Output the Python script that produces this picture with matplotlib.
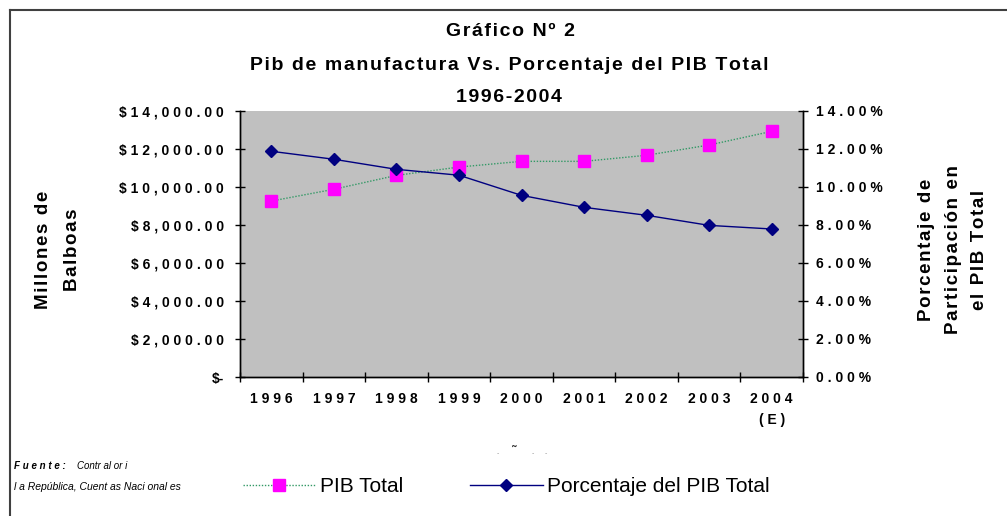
import matplotlib
matplotlib.use("Agg")
import matplotlib.pyplot as plt
from matplotlib.lines import Line2D
from matplotlib.ticker import FixedLocator, FixedFormatter

plt.rcParams['font.family'] = ['Liberation Sans', 'DejaVu Sans']

years = ['1996', '1997', '1998', '1999', '2000', '2001', '2002', '2003', '2004']
year_labels = ['1996', '1997', '1998', '1999', '2000', '2001', '2002', '2003', '2004\n(E)']
pib_total = [9260, 9880, 10610, 11050, 11350, 11350, 11670, 12210, 12930]
pct_pib = [11.88, 11.46, 10.93, 10.62, 9.56, 8.93, 8.51, 7.98, 7.79]
left_ticks = [0, 2000, 4000, 6000, 8000, 10000, 12000, 14000]
right_ticks = [0, 2, 4, 6, 8, 10, 12, 14]


def spaced(s):
    return '\n'.join(' '.join(line) for line in s.split('\n'))


def hair(s):
    return '\n'.join('\u200a'.join(line) for line in s.split('\n'))


W, H = 1007, 516
fig = plt.figure(figsize=(W / 100, H / 100), dpi=100)
fig.patch.set_facecolor('white')

x0, x1, ytop, ybot = 240, 803, 111, 377
ax = fig.add_axes([x0 / W, 1 - ybot / H, (x1 - x0) / W, (ybot - ytop) / H])
ax.set_facecolor('#C0C0C0')
ax2 = ax.twinx()

xs = list(range(len(years)))
l1, = ax.plot(xs, pib_total, linestyle=(0, (1, 1.2)), color='#339966', lw=1.0,
              marker='s', markersize=8.5, markerfacecolor='#FF00FF',
              markeredgecolor='#FF00FF', zorder=3)
l2, = ax2.plot(xs, pct_pib, linestyle='-', color='#000080', lw=1.0,
               marker='D', markersize=6.5, markerfacecolor='#000080',
               markeredgecolor='#000080', zorder=3)

ax.set_xlim(-0.5, len(years) - 0.5)
ax.set_ylim(0, 14000)
ax2.set_ylim(0, 14)

ax.yaxis.set_major_locator(FixedLocator(left_ticks))
ax.yaxis.set_major_formatter(FixedFormatter(
    ['$-'] + [spaced('${:,.2f}'.format(v)) for v in left_ticks[1:]]))
ax2.yaxis.set_major_locator(FixedLocator(right_ticks))
ax2.yaxis.set_major_formatter(FixedFormatter(
    [spaced('{:.2f}%'.format(v)) for v in right_ticks]))

ax.xaxis.set_major_locator(FixedLocator([i - 0.5 for i in range(len(years) + 1)]))
ax.xaxis.set_major_formatter(FixedFormatter([''] * (len(years) + 1)))
ax.xaxis.set_minor_locator(FixedLocator(xs))
ax.xaxis.set_minor_formatter(FixedFormatter([spaced(s) for s in year_labels]))
ax.tick_params(axis='x', which='major', direction='inout', length=7, width=1, color='black')
ax.tick_params(axis='x', which='minor', length=0, pad=11, labelsize=10)
for t in ax.xaxis.get_minorticklabels():
    t.set_fontweight('bold')
    t.set_linespacing(1.6)
ax.tick_params(axis='y', direction='inout', length=7, width=1, pad=8, labelsize=10)
ax2.tick_params(axis='y', direction='inout', length=7, width=1, pad=6, labelsize=10)
for t in ax.get_yticklabels() + ax2.get_yticklabels():
    t.set_fontweight('bold')

for a in (ax, ax2):
    for s in a.spines.values():
        s.set_color('black')
        s.set_linewidth(1.0)
ax2.spines['top'].set_visible(False)
ax.spines['top'].set_visible(False)

# titles
fig.text(510 / W, 1 - 32 / H, hair('Gráfico Nº 2'), ha='center', va='center',
         fontsize=14, fontweight='bold')
fig.text(509 / W, 1 - 66 / H, hair('Pib de manufactura Vs. Porcentaje del PIB Total'),
         ha='center', va='center', fontsize=14, fontweight='bold')
fig.text(509 / W, 1 - 97 / H, hair('1996-2004'), ha='center', va='center',
         fontsize=14, fontweight='bold')

# axis titles
fig.text(58 / W, 1 - 250 / H, hair('Millones de\nBalboas'), ha='center', va='center',
         rotation=90, fontsize=13.5, fontweight='bold', linespacing=1.95)
fig.text(953 / W, 1 - 250 / H, hair('Porcentaje de\nParticipación en\nel PIB Total'),
         ha='center', va='center', rotation=90, fontsize=13.5, fontweight='bold',
         linespacing=1.75)

# garbled x-axis title remnant
fig.text(514 / W, 1 - 452 / H, '˜', ha='center', va='center', fontsize=9,
         fontweight='bold', color='#333333')
for xp in (498, 533, 546):
    fig.text(xp / W, 1 - 454 / H, '-', ha='center', va='center', fontsize=5,
             color='#999999')

# source
fig.text(14 / W, 1 - 466 / H, 'F u e n t e :', ha='left', va='center', fontsize=7,
         fontweight='bold', style='italic')
fig.text(77 / W, 1 - 466 / H, 'Contr al or i', ha='left', va='center', fontsize=7,
         style='italic')
fig.text(14 / W, 1 - 487 / H, 'l a República, Cuent as Naci onal es', ha='left',
         va='center', fontsize=7.5, style='italic')

# legend
leg = fig.legend(handles=[l1, l2], labels=['PIB Total', 'Porcentaje del PIB Total'],
                 loc='center left', bbox_to_anchor=(243 / W, 1 - 487 / H),
                 ncol=2, frameon=False, fontsize=15, handlelength=3.5,
                 handletextpad=0.2, columnspacing=3.2, borderpad=0,
                 borderaxespad=0)

# border
fig.add_artist(Line2D([9.5 / W, 9.5 / W], [0, 1 - 10 / H], color='#404040', lw=1.5))
fig.add_artist(Line2D([9.5 / W, 1], [1 - 10 / H, 1 - 10 / H], color='#404040', lw=1.5))

fig.savefig('out.png', dpi=100)
